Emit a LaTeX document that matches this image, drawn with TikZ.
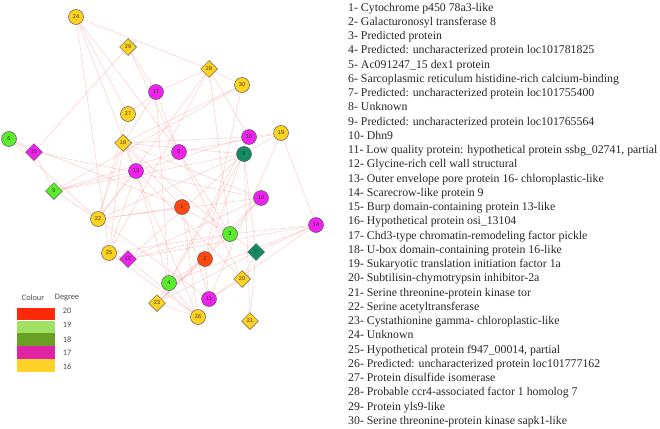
\documentclass[tikz,border=0pt]{standalone}
\usepackage{fontspec}
\setmainfont{Liberation Serif}
\newfontfamily\nodefont{Liberation Sans}
\newfontfamily\legendfont{Carlito}
\usetikzlibrary{shapes.geometric, positioning}
\definecolor{deg20}{RGB}{255,72,16}
\definecolor{deg19}{RGB}{90,235,45}
\definecolor{deg18}{RGB}{18,140,100}
\definecolor{deg17}{RGB}{240,32,240}
\definecolor{deg16}{RGB}{255,210,32}
\definecolor{leg20}{RGB}{255,40,10}
\definecolor{leg19}{RGB}{160,225,100}
\definecolor{leg18}{RGB}{105,160,35}
\definecolor{leg17}{RGB}{225,35,165}
\definecolor{leg16}{RGB}{255,210,40}
\definecolor{linkpink}{RGB}{255,110,110}
\pgfdeclarelayer{edges}
\pgfsetlayers{edges,main}

\tikzset{
  protein/.style={circle, draw=black!65, line width=0.5pt, minimum size=15pt, inner sep=0pt,
    font=\nodefont\fontsize{5.5}{5.5}\selectfont, text=black!80},
  dprotein/.style={protein, diamond, minimum size=17pt},
  link/.style={draw=linkpink, line width=0.35pt, opacity=0.45},
  legtext/.style={font=\legendfont\fontsize{8.3}{8.3}\selectfont, text=black!70, inner sep=0pt},
  entry/.style={anchor=base west, inner sep=0pt, text=black!85, font=\fontsize{11.8}{14}\selectfont}
}

\begin{document}
\begin{tikzpicture}[x=1pt, y=-1pt]

    \useasboundingbox (0,0) rectangle (660,428);

    % degree 20
    \node[protein, fill=deg20] (n1) at (182,207) {1};
    \node[protein, fill=deg20] (n2) at (205,259) {2};
    % degree 19
    \node[protein, fill=deg19] (n3) at (230,234) {3};
    \node[protein, fill=deg19] (n4) at (169,283) {4};
    \node[dprotein, fill=deg19] (n5) at (54,191) {5};
    \node[protein, fill=deg19] (n6) at (9,139) {6};
    % degree 18
    \node[dprotein, fill=deg18] (n7) at (256,252) {7};
    \node[protein, fill=deg18] (n8) at (244,154) {8};
    % degree 17
    \node[protein, fill=deg17] (n9) at (179,152) {9};
    \node[protein, fill=deg17] (n10) at (261,198) {10};
    \node[protein, fill=deg17] (n11) at (209,299) {11};
    \node[dprotein, fill=deg17] (n12) at (128,259) {12};
    \node[protein, fill=deg17] (n13) at (136,171) {13};
    \node[protein, fill=deg17] (n14) at (316,225) {14};
    \node[dprotein, fill=deg17] (n15) at (34,152) {15};
    \node[protein, fill=deg17] (n16) at (249,137) {16};
    \node[protein, fill=deg17] (n17) at (156,92) {17};
    % degree 16
    \node[dprotein, fill=deg16] (n18) at (123,143) {18};
    \node[protein, fill=deg16] (n19) at (281,133) {19};
    \node[dprotein, fill=deg16] (n20) at (242,279) {20};
    \node[dprotein, fill=deg16] (n21) at (250,321) {21};
    \node[protein, fill=deg16] (n22) at (98,219) {22};
    \node[dprotein, fill=deg16] (n23) at (157,303) {23};
    \node[protein, fill=deg16] (n24) at (76,17) {24};
    \node[protein, fill=deg16] (n25) at (109,253) {25};
    \node[protein, fill=deg16] (n26) at (198,317) {26};
    \node[protein, fill=deg16] (n27) at (128,114) {27};
    \node[dprotein, fill=deg16] (n28) at (209,69) {28};
    \node[dprotein, fill=deg16] (n29) at (128,47) {29};
    \node[protein, fill=deg16] (n30) at (242,85) {30};

    \begin{pgfonlayer}{edges}
    \draw[link] (n24) -- (n28) (n24) -- (n27) (n24) -- (n9) (n24) -- (n25) (n24) -- (n13);
    \draw[link] (n29) -- (n15) (n29) -- (n17) (n29) -- (n9);
    \draw[link] (n28) -- (n17) (n28) -- (n30) (n28) -- (n22) (n28) -- (n25) (n28) -- (n3) (n28) -- (n16);
    \draw[link] (n30) -- (n18) (n30) -- (n5) (n30) -- (n2);
    \draw[link] (n17) -- (n18) (n17) -- (n4) (n17) -- (n9) (n17) -- (n27);
    \draw[link] (n27) -- (n22);
    \draw[link] (n6) -- (n15) (n6) -- (n1) (n6) -- (n22);
    \draw[link] (n15) -- (n5) (n15) -- (n10);
    \draw[link] (n5) -- (n13) (n5) -- (n8) (n5) -- (n22) (n5) -- (n9);
    \draw[link] (n18) -- (n16) (n18) -- (n8) (n18) -- (n10) (n18) -- (n3) (n18) -- (n22)
                (n18) -- (n25) (n18) -- (n1) (n18) -- (n26);
    \draw[link] (n9) -- (n19) (n9) -- (n3) (n9) -- (n20);
    \draw[link] (n16) -- (n19) (n16) -- (n13) (n16) -- (n2) (n16) -- (n23);
    \draw[link] (n8) -- (n19) (n8) -- (n22) (n8) -- (n21) (n8) -- (n4) (n8) -- (n12) (n8) -- (n7);
    \draw[link] (n19) -- (n14) (n19) -- (n11);
    \draw[link] (n13) -- (n22) (n13) -- (n4) (n13) -- (n25) (n13) -- (n20);
    \draw[link] (n22) -- (n10) (n22) -- (n1) (n22) -- (n11);
    \draw[link] (n1) -- (n3) (n1) -- (n26) (n1) -- (n11);
    \draw[link] (n10) -- (n3) (n10) -- (n12) (n10) -- (n23);
    \draw[link] (n3) -- (n14) (n3) -- (n7) (n3) -- (n25) (n3) -- (n12) (n3) -- (n23);
    \draw[link] (n14) -- (n7) (n14) -- (n12) (n14) -- (n4) (n14) -- (n11);
    \draw[link] (n7) -- (n21) (n7) -- (n20) (n7) -- (n23);
    \draw[link] (n25) -- (n12) (n25) -- (n26) (n12) -- (n26);
    \draw[link] (n2) -- (n4) (n2) -- (n23) (n2) -- (n11);
    \draw[link] (n4) -- (n26) (n23) -- (n26) (n20) -- (n11);
    \end{pgfonlayer}

    % legend
    \node[legtext] (colourhead) at (33,298) {Colour};
    \node[legtext] (degreehead) at (67,298) {Degree};
    \fill[leg20] (17,307.7) rectangle (55,320.3);
    \fill[leg19] (17,320.7) rectangle (55,332.9);
    \fill[leg18] (17,333.3) rectangle (55,345.7);
    \fill[leg17] (17,346) rectangle (55,358.9);
    \fill[leg16] (17,359.3) rectangle (55,371.7);
    \node[legtext] (lab20) at (67,311) {20};
    \node[legtext] (lab19) at (67,325) {19};
    \node[legtext] (lab18) at (67,340) {18};
    \node[legtext] (lab17) at (67,353) {17};
    \node[legtext] (lab16) at (67,367) {16};

    % protein list
    \node[entry] (p1) at (348,11.1) {1- Cytochrome p450 78a3-like};
    \node[entry] (p2) at (348,25.35) {2- Galacturonosyl transferase 8};
    \node[entry] (p3) at (348,39.6) {3- Predicted protein};
    \node[entry] (p4) at (348,53.85) {4- Predicted: uncharacterized protein loc101781825};
    \node[entry] (p5) at (348,68.1) {5- Ac091247\_15 dex1 protein};
    \node[entry] (p6) at (348,82.35) {6- Sarcoplasmic reticulum histidine-rich calcium-binding};
    \node[entry] (p7) at (348,96.6) {7- Predicted: uncharacterized protein loc101755400};
    \node[entry] (p8) at (348,110.85) {8- Unknown};
    \node[entry] (p9) at (348,125.1) {9- Predicted: uncharacterized protein loc101765564};
    \node[entry] (p10) at (348,139.35) {10- Dhn9};
    \node[entry] (p11) at (348,153.6) {11- Low quality protein: hypothetical protein ssbg\_02741, partial};
    \node[entry] (p12) at (348,167.85) {12- Glycine-rich cell wall structural};
    \node[entry] (p13) at (348,182.1) {13- Outer envelope pore protein 16- chloroplastic-like};
    \node[entry] (p14) at (348,196.35) {14- Scarecrow-like protein 9};
    \node[entry] (p15) at (348,210.6) {15- Burp domain-containing protein 13-like};
    \node[entry] (p16) at (348,224.85) {16- Hypothetical protein osi\_13104};
    \node[entry] (p17) at (348,239.1) {17- Chd3-type chromatin-remodeling factor pickle};
    \node[entry] (p18) at (348,253.35) {18- U-box domain-containing protein 16-like};
    \node[entry] (p19) at (348,267.6) {19- Sukaryotic translation initiation factor 1a};
    \node[entry] (p20) at (348,281.85) {20- Subtilisin-chymotrypsin inhibitor-2a};
    \node[entry] (p21) at (348,296.1) {21- Serine threonine-protein kinase tor};
    \node[entry] (p22) at (348,310.35) {22- Serine acetyltransferase};
    \node[entry] (p23) at (348,324.6) {23- Cystathionine gamma- chloroplastic-like};
    \node[entry] (p24) at (348,338.85) {24- Unknown};
    \node[entry] (p25) at (348,353.1) {25- Hypothetical protein f947\_00014, partial};
    \node[entry] (p26) at (348,367.35) {26- Predicted: uncharacterized protein loc101777162};
    \node[entry] (p27) at (348,381.6) {27- Protein disulfide isomerase};
    \node[entry] (p28) at (348,395.85) {28- Probable ccr4-associated factor 1 homolog 7};
    \node[entry] (p29) at (348,410.1) {29- Protein yls9-like};
    \node[entry] (p30) at (348,424.35) {30- Serine threonine-protein kinase sapk1-like};

  \end{tikzpicture}
\end{document}
